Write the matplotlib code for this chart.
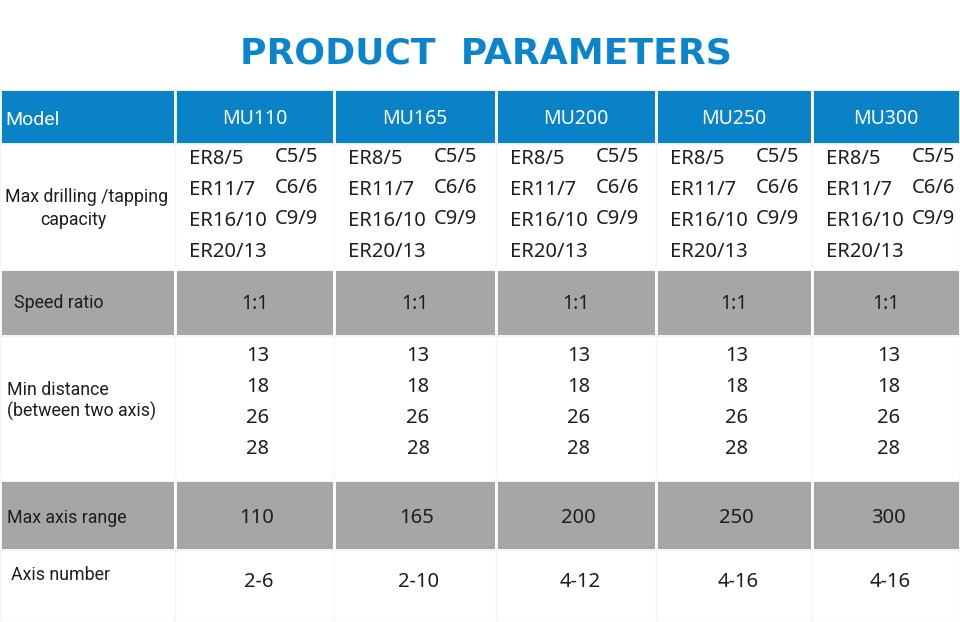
import matplotlib.pyplot as plt
from matplotlib.patches import Rectangle

models = ['MU110', 'MU165', 'MU200', 'MU250', 'MU300']
row_labels = ['Model', 'Max drilling /tapping\ncapacity', 'Speed ratio',
              'Min distance\n(between two axis)', 'Max axis range', 'Axis number']
er_capacity = ['ER8/5', 'ER11/7', 'ER16/10', 'ER20/13']
c_capacity = ['C5/5', 'C6/6', 'C9/9']
speed_ratio = ['1:1', '1:1', '1:1', '1:1', '1:1']
min_distance = [13, 18, 26, 28]
max_axis_range = [110, 165, 200, 250, 300]
axis_number = ['2-6', '2-10', '4-12', '4-16', '4-16']

BLUE = '#0A82C8'
GRAY = '#A6A6A6'
TXT = '#1e1e1e'
FONT = ['Noto Sans', 'DejaVu Sans']
NARROW = ['Roboto', 'DejaVu Sans']

col_edges = [0, 175, 334, 496, 656, 812, 960]
row_edges = [89, 144, 269, 336, 480, 550, 622]
row_fill = [BLUE, 'white', GRAY, 'white', GRAY, 'white']

fig = plt.figure(figsize=(9.6, 6.22), dpi=100)
ax = fig.add_axes([0, 0, 1, 1])
ax.set_xlim(0, 960)
ax.set_ylim(622, 0)
ax.axis('off')

ax.text(486, 53, 'PRODUCT  PARAMETERS', color='#0A84CC', fontsize=26,
        fontweight='bold', family='DejaVu Sans', ha='center', va='center')

# cells
for r in range(6):
    y0, y1 = row_edges[r], row_edges[r + 1]
    for c in range(6):
        x0, x1 = col_edges[c], col_edges[c + 1]
        if row_fill[r] == 'white':
            ec, lw = '#f4f4f4', 1
        else:
            ec, lw = 'white', 2
        ax.add_patch(Rectangle((x0, y0), x1 - x0, y1 - y0, facecolor=row_fill[r],
                               edgecolor=ec, linewidth=lw))

# row labels
label_pos = [(5, 120), (5, 208), (14, 303), (7, 401), (7, 518), (11, 575)]
for lab, (x, y) in zip(row_labels, label_pos):
    col = 'white' if lab == 'Model' else TXT
    fs = 14 if lab == 'Model' else 12.8
    if lab.startswith('Max drilling'):
        ax.text(x, 197, lab.split('\n')[0], color=col, fontsize=fs, family=NARROW,
                ha='left', va='center')
        ax.text(73, 220, lab.split('\n')[1], color=col, fontsize=fs, family=NARROW,
                ha='center', va='center')
        continue
    ax.text(x, y, lab, color=col, fontsize=fs, family=NARROW, ha='left', va='center',
            linespacing=1.15)

for i, m in enumerate(models):
    x0 = col_edges[i + 1]
    xc = (col_edges[i + 1] + col_edges[i + 2]) / 2
    ax.text(xc, 119, m, color='white', fontsize=14, family=FONT, ha='center', va='center')
    for j, e in enumerate(er_capacity):
        ax.text(x0 + 14, 159 + j * 31, e, color=TXT, fontsize=14.5, family=FONT,
                ha='left', va='center')
    for j, cc in enumerate(c_capacity):
        ax.text(x0 + 100, 157 + j * 31, cc, color=TXT, fontsize=14.5, family=FONT,
                ha='left', va='center')
    ax.text(xc, 304, speed_ratio[i], color=TXT, fontsize=14, family=FONT,
            ha='center', va='center')
    for j, d in enumerate(min_distance):
        ax.text(xc + 3, 356 + j * 31, str(d), color=TXT, fontsize=14.5, family=FONT,
                ha='center', va='center')
    ax.text(xc + 2, 518, str(max_axis_range[i]), color=TXT, fontsize=14.5, family=FONT,
            ha='center', va='center')
    ax.text(xc + 4, 582, axis_number[i], color=TXT, fontsize=14.5, family=FONT,
            ha='center', va='center')

fig.savefig('out.png', dpi=100)
